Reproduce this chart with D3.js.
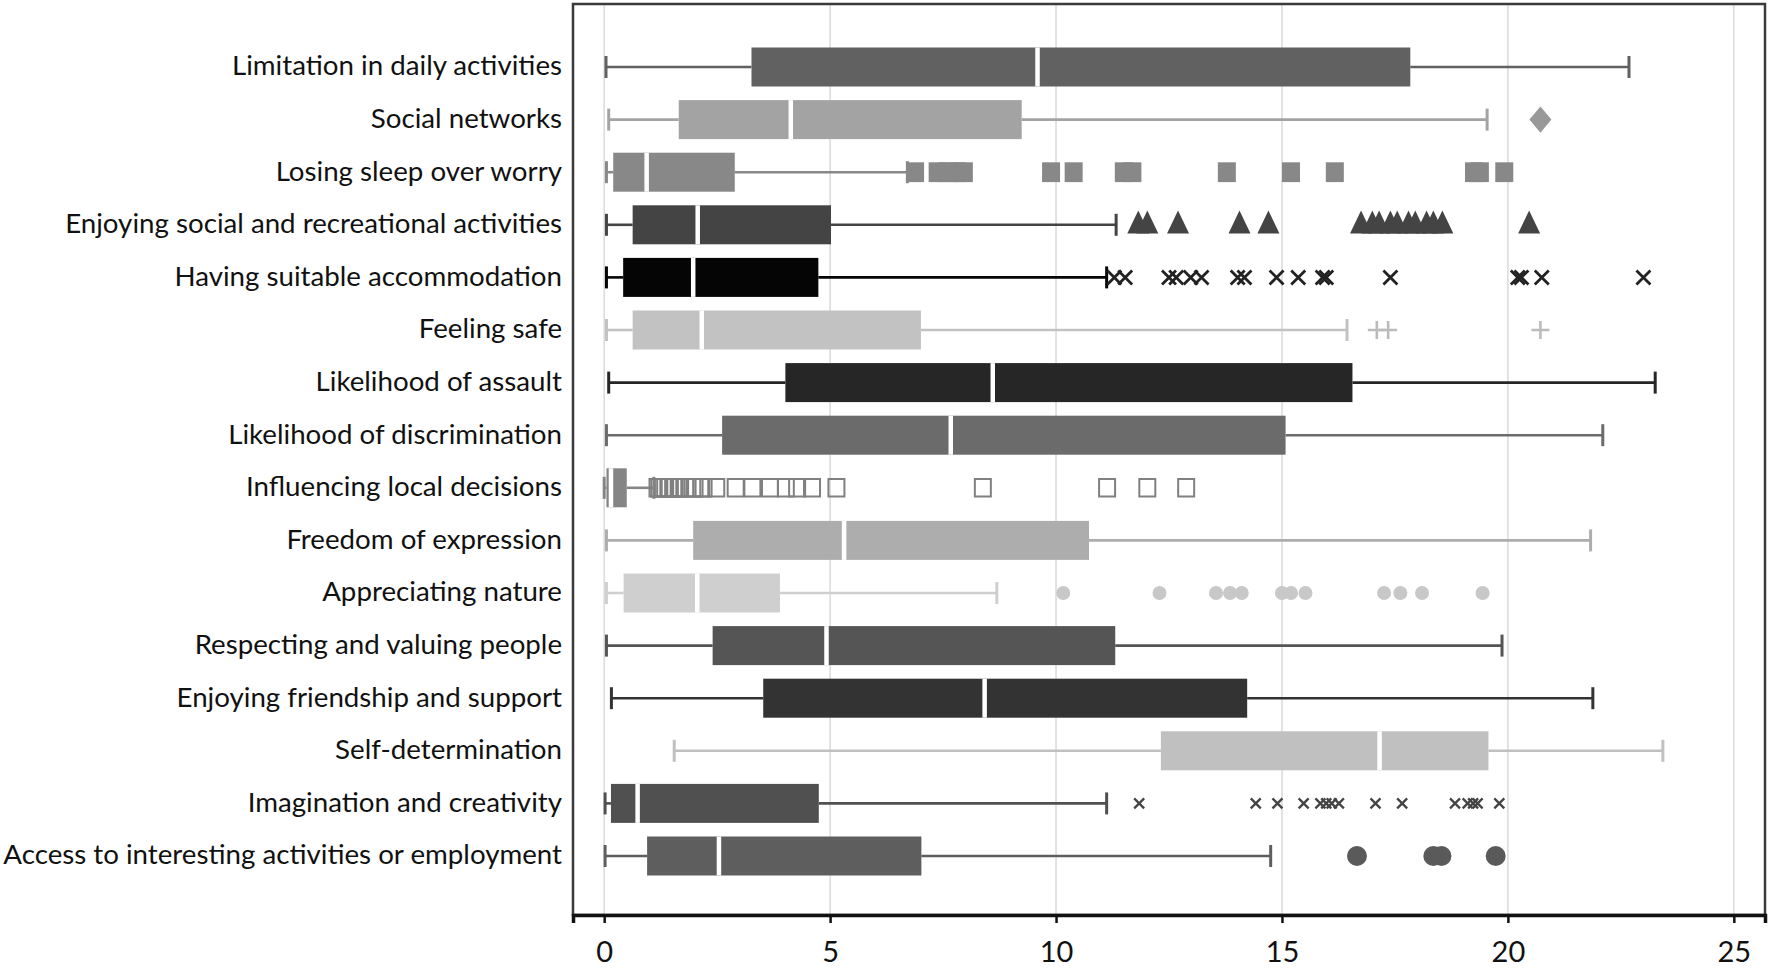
<!DOCTYPE html>
<html>
<head>
<meta charset="utf-8">
<script src="https://cdn.jsdelivr.net/npm/d3@7"></script>
<style>
  html, body { margin: 0; padding: 0; background: #fff; }
  svg { display: block; }
  text { font-family: Lato, "Open Sans", sans-serif; fill: #111; }
</style>
</head>
<body>
<script>
// ---- data ----
var categories = [
    "Limitation in daily activities",
    "Social networks",
    "Losing sleep over worry",
    "Enjoying social and recreational activities",
    "Having suitable accommodation",
    "Feeling safe",
    "Likelihood of assault",
    "Likelihood of discrimination",
    "Influencing local decisions",
    "Freedom of expression",
    "Appreciating nature",
    "Respecting and valuing people",
    "Enjoying friendship and support",
    "Self-determination",
    "Imagination and creativity",
    "Access to interesting activities or employment"
];
var whiskerLow  = [0.04, 0.10, 0.05, 0.05, 0.05, 0.05, 0.10, 0.05, 0.00, 0.05, 0.05, 0.05, 0.16, 1.55, 0.02, 0.02];
var q1          = [3.26, 1.65, 0.20, 0.63, 0.42, 0.63, 4.01, 2.61, 0.05, 1.97, 0.43, 2.40, 3.52, 12.32, 0.15, 0.95];
var median      = [9.59, 4.13, 0.94, 2.07, 1.97, 2.16, 8.60, 7.67, 0.15, 5.31, 2.06, 4.92, 8.42, 17.16, 0.74, 2.54];
var q3          = [17.84, 9.24, 2.89, 5.02, 4.74, 7.01, 16.56, 15.08, 0.50, 10.73, 3.89, 11.31, 14.23, 19.57, 4.75, 7.02];
var whiskerHigh = [22.68, 19.54, 6.71, 11.33, 11.12, 16.44, 23.26, 22.10, 1.10, 21.83, 8.69, 19.87, 21.88, 23.43, 11.12, 14.75];
var outliers = [
    [],
    [20.72],
    [6.88, 7.38, 7.6, 7.8, 7.96, 9.89, 10.39, 11.5, 11.69, 13.78, 15.2, 16.17, 19.25, 19.38, 19.92],
    [11.82, 12.02, 12.7, 14.06, 14.7, 16.75, 17.0, 17.15, 17.4, 17.55, 17.8, 17.95, 18.2, 18.35, 18.55, 20.47],
    [11.29, 11.53, 12.5, 12.66, 12.98, 13.22, 14.02, 14.17, 14.88, 15.36, 15.9, 15.98, 17.4, 20.22, 20.3, 20.75, 23.0],
    [17.1, 17.35, 20.72],
    [],
    [],
    [1.18, 1.22, 1.3, 1.35, 1.42, 1.45, 1.53, 1.55, 1.65, 1.68, 1.8, 1.95, 2.0, 2.15, 2.2, 2.48, 2.91, 3.28, 3.67, 4.02, 4.27, 4.6, 5.14, 8.38, 11.13, 12.02, 12.88],
    [],
    [10.16, 12.29, 13.54, 13.85, 14.11, 15.0, 15.2, 15.52, 17.26, 17.62, 18.1, 19.44],
    [],
    [],
    [],
    [11.84, 14.42, 14.9, 15.48, 15.85, 15.98, 16.1, 16.26, 17.07, 17.66, 18.83, 19.11, 19.23, 19.33, 19.81],
    [16.66, 18.35, 18.53, 19.73]
];
var tickValues = [0, 5, 10, 15, 20, 25];

// ---- styles ----
var boxColors = ["#616161", "#a3a3a3", "#888888", "#444444", "#050505", "#c2c2c2", "#262626", "#6b6b6b",
                 "#858585", "#adadad", "#cfcfcf", "#555555", "#333333", "#c0c0c0", "#505050", "#5e5e5e"];
var markerTypes = ["none", "diamond", "square", "triangle", "times", "plus", "none", "none",
                   "hollow", "none", "circle", "none", "none", "none", "smallTimes", "bigCircle"];
var markerColors = ["", "#999999", "#888888", "#444444", "#222222", "#bbbbbb", "", "",
                    "#808080", "", "#c8c8c8", "", "", "", "#444444", "#5a5a5a"];

var shapes = {
    diamond: { fill: true, draw: function (c, s) { c.moveTo(0, -s * 1.2); c.lineTo(s, 0); c.lineTo(0, s * 1.2); c.lineTo(-s, 0); c.closePath(); } },
    square: { fill: true, draw: function (c, s) { c.rect(-s, -s * 1.1, 2 * s, 2.2 * s); } },
    triangle: { fill: true, draw: function (c, s) { c.moveTo(0, -s * 1.3); c.lineTo(s, s * 0.8); c.lineTo(-s, s * 0.8); c.closePath(); } },
    times: { fill: false, draw: function (c, s) { c.moveTo(-s, -s); c.lineTo(s, s); c.moveTo(s, -s); c.lineTo(-s, s); } },
    smallTimes: { fill: false, draw: function (c, s) { c.moveTo(-s, -s); c.lineTo(s, s); c.moveTo(s, -s); c.lineTo(-s, s); } },
    plus: { fill: false, draw: function (c, s) { c.moveTo(-s, 0); c.lineTo(s, 0); c.moveTo(0, -s); c.lineTo(0, s); } },
    hollow: { fill: false, draw: function (c, s) { c.rect(-s, -s * 1.1, 2 * s, 2.2 * s); } },
    circle: { fill: true, draw: function (c, s) { c.arc(0, 0, s, 0, 2 * Math.PI); } },
    bigCircle: { fill: true, draw: function (c, s) { c.arc(0, 0, s, 0, 2 * Math.PI); } }
};
var shapeSize = { diamond: 11, square: 9, triangle: 11, times: 7, smallTimes: 5, plus: 9, hollow: 8, circle: 7, bigCircle: 10 };
var shapeStroke = { times: 2.8, smallTimes: 2.3, plus: 2.6, hollow: 2 };

var width = 1770, height = 972;
var frame = { left: 573, right: 1765, top: 4, bottom: 915 };
var boxH = 39, capH = 22;

var svg = d3.select("body").append("svg").attr("width", width).attr("height", height);

var x = d3.scaleLinear().domain([-0.69, 25.69]).range([frame.left, frame.right]);
var y = d3.scalePoint().domain(categories).range([67, 856]);

// grid lines
svg.append("g").selectAll("line").data(tickValues).join("line")
    .attr("x1", function (d) { return x(d); }).attr("x2", function (d) { return x(d); })
    .attr("y1", frame.top).attr("y2", frame.bottom)
    .attr("stroke", "#dadada").attr("stroke-width", 1.5);

// frame
svg.append("rect")
    .attr("x", frame.left).attr("y", frame.top)
    .attr("width", frame.right - frame.left).attr("height", frame.bottom - frame.top)
    .attr("fill", "none").attr("stroke", "#3a3a3a").attr("stroke-width", 2.5);

// x axis
var axis = svg.append("g")
    .attr("transform", "translate(0," + frame.bottom + ")")
    .call(d3.axisBottom(x).tickValues(tickValues).tickSize(8).tickPadding(18));
axis.select(".domain").attr("stroke", "#111").attr("stroke-width", 3.5);
axis.selectAll(".tick line").attr("stroke", "#111").attr("stroke-width", 2.5);
axis.selectAll(".tick text").attr("font-size", 29).attr("font-family", "Lato, sans-serif").attr("fill", "#111");

// category labels, sized so the longest fits the reference width
var labels = svg.append("g").selectAll("text").data(categories).join("text")
    .attr("x", 562).attr("y", function (d) { return y(d); })
    .attr("dy", "0.3em").attr("text-anchor", "end")
    .attr("font-size", 30).text(function (d) { return d; });
var longest = d3.max(labels.nodes(), function (n) { return n.getComputedTextLength(); });
labels.attr("font-size", 30 * 559 / longest);

// boxes
var rows = svg.append("g").selectAll("g").data(categories).join("g")
    .attr("transform", function (d) { return "translate(0," + y(d) + ")"; });

rows.append("line")
    .attr("x1", function (d, i) { return x(whiskerLow[i]); })
    .attr("x2", function (d, i) { return x(q1[i]); })
    .attr("stroke", function (d, i) { return boxColors[i]; }).attr("stroke-width", 2.6);
rows.append("line")
    .attr("x1", function (d, i) { return x(q3[i]); })
    .attr("x2", function (d, i) { return x(whiskerHigh[i]); })
    .attr("stroke", function (d, i) { return boxColors[i]; }).attr("stroke-width", 2.6);
rows.append("line")
    .attr("x1", function (d, i) { return x(whiskerLow[i]); })
    .attr("x2", function (d, i) { return x(whiskerLow[i]); })
    .attr("y1", -capH / 2).attr("y2", capH / 2)
    .attr("stroke", function (d, i) { return boxColors[i]; }).attr("stroke-width", 3);
rows.append("line")
    .attr("x1", function (d, i) { return x(whiskerHigh[i]); })
    .attr("x2", function (d, i) { return x(whiskerHigh[i]); })
    .attr("y1", -capH / 2).attr("y2", capH / 2)
    .attr("stroke", function (d, i) { return boxColors[i]; }).attr("stroke-width", 3);
rows.append("rect")
    .attr("x", function (d, i) { return x(q1[i]); })
    .attr("width", function (d, i) { return x(q3[i]) - x(q1[i]); })
    .attr("y", -boxH / 2).attr("height", boxH)
    .attr("fill", function (d, i) { return boxColors[i]; });
rows.append("line")
    .attr("x1", function (d, i) { return x(median[i]); })
    .attr("x2", function (d, i) { return x(median[i]); })
    .attr("y1", -boxH / 2).attr("y2", boxH / 2)
    .attr("stroke", "#fff").attr("stroke-width", 4.5);

// outside values
rows.each(function (d, i) {
    var t = markerTypes[i];
    if (t === "none") return;
    var sym = d3.symbol().type(shapes[t]).size(shapeSize[t]);
    d3.select(this).selectAll("path.out").data(outliers[i]).join("path")
        .attr("class", "out")
        .attr("transform", function (v) { return "translate(" + x(v) + ",0)"; })
        .attr("d", sym)
        .attr("fill", shapes[t].fill ? markerColors[i] : "none")
        .attr("stroke", shapes[t].fill ? "none" : markerColors[i])
        .attr("stroke-width", shapeStroke[t] || 0);
});
</script>
</body>
</html>
